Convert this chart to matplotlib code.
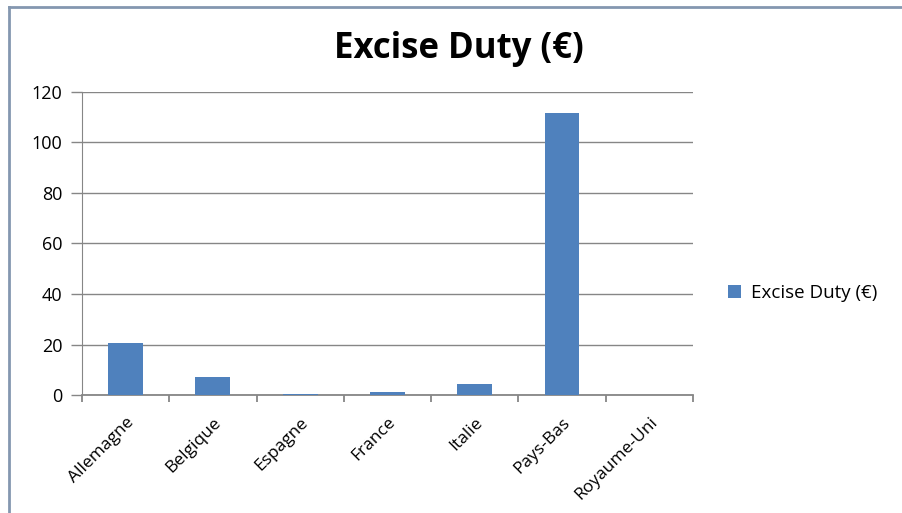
import matplotlib.pyplot as plt
import numpy as np

# data
countries = ["Allemagne", "Belgique", "Espagne", "France", "Italie", "Pays-Bas", "Royaume-Uni"]
duty      = [20.4, 7.1, 0.4, 1.2, 4.4, 111.5, 0.0]

bar_color  = "#4F81BD"
grid_color = "#868686"

plt.rcParams["font.family"] = ["Open Sans", "DejaVu Sans"]

fig = plt.figure(figsize=(9.03, 5.13), dpi=100)
ax = fig.add_axes([0.0908, 0.230, 0.6766, 0.5907])

x = np.arange(len(countries))
ax.bar(x, duty, width=0.4, color=bar_color, label="Excise Duty (€)", zorder=3)

ax.set_xlim(-0.5, len(countries) - 0.5)
ax.set_ylim(0, 120)
ax.set_yticks(np.arange(0, 121, 20))
ax.yaxis.grid(True, color=grid_color, linewidth=1, zorder=0)

# category ticks sit between bars, Excel style
ax.set_xticks(np.arange(-0.5, len(countries), 1.0))
ax.set_xticklabels([])
ax.set_xticks(x, minor=True)
ax.set_xticklabels(countries, minor=True, rotation=45, ha="right",
                   rotation_mode="anchor", fontsize=12.5)
ax.tick_params(axis="x", which="minor", length=0, pad=14)
ax.tick_params(axis="x", which="major", length=5, color=grid_color, width=1.3)
ax.tick_params(axis="y", length=8, color=grid_color, width=1, labelsize=13, pad=6)

for side in ["top", "right"]:
    ax.spines[side].set_visible(False)
ax.spines["left"].set_color(grid_color)
ax.spines["bottom"].set_color(grid_color)
ax.spines["bottom"].set_linewidth(1.3)

fig.text(0.508, 0.905, "Excise Duty (€)", ha="center", va="center",
         fontsize=25, fontweight="bold")

ax.legend(loc="center left", bbox_to_anchor=(1.03, 0.335), frameon=False,
          fontsize=13.5, handlelength=0.7, handleheight=0.7, handletextpad=0.5)

# chart frame edges (left and top visible in the screenshot)
fig.add_artist(plt.Line2D([0.0105, 0.0105], [0, 0.987], color="#8497B0", linewidth=2.0))
fig.add_artist(plt.Line2D([0.0105, 1.0], [0.987, 0.987], color="#8497B0", linewidth=2.0))

fig.savefig("out.png", dpi=100)
